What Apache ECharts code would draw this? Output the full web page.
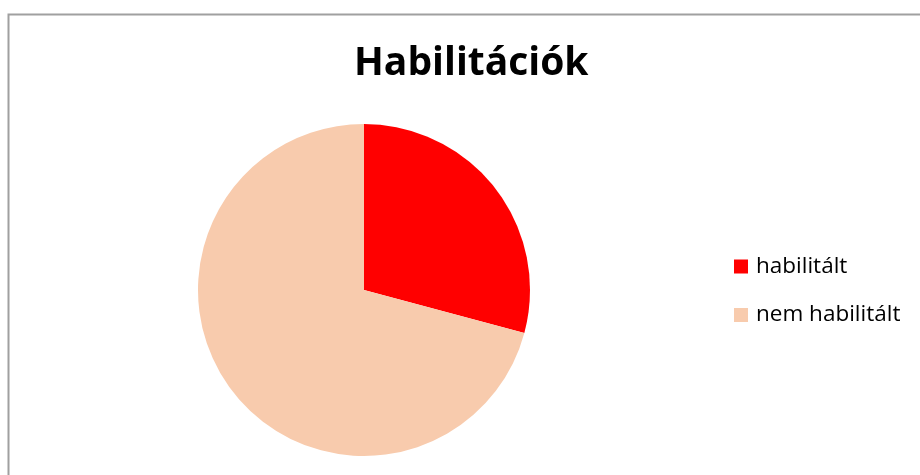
<!DOCTYPE html>
<html><head><meta charset="utf-8">
<script src="https://cdn.jsdelivr.net/npm/echarts@6/dist/echarts.min.js"></script>
<style>html,body{margin:0;padding:0;background:#fff}#c{width:920px;height:475px}</style>
</head><body><div id="c"></div>
<script>
const titleText = 'Habilitációk';
const categories = ['habilitált', 'nem habilitált'];
const values = [7, 17];
const colors = ['#FF0000', '#F8CBAD'];

const chart = echarts.init(document.getElementById('c'), null, {renderer: 'canvas'});
chart.setOption({
  backgroundColor: '#fff',
  animation: false,
  graphic: [{
    type: 'rect', left: 6, top: 12, z: -1,
    shape: {width: 930, height: 480},
    style: {fill: 'none', stroke: '#a0a0a0', lineWidth: 2}
  }],
  title: {
    text: titleText, left: 349, top: 39,
    textStyle: {fontFamily: 'Open Sans', fontWeight: 'bold', fontSize: 39, color: '#000'}
  },
  legend: {
    orient: 'vertical', left: 729, top: 250,
    icon: 'rect', itemWidth: 14, itemHeight: 14, itemGap: 25.5,
    textStyle: {fontFamily: 'Open Sans', fontSize: 22.5, color: '#000', padding: [0,0,0,3]},
    data: categories
  },
  series: [{
    type: 'pie', center: [364, 290], radius: 166,
    startAngle: 90, clockwise: true,
    label: {show: false}, labelLine: {show: false},
    emphasis: {disabled: true},
    itemStyle: {borderWidth: 0},
    data: categories.map((n, i) => ({name: n, value: values[i], itemStyle: {color: colors[i]}}))
  }]
});
</script></body></html>
